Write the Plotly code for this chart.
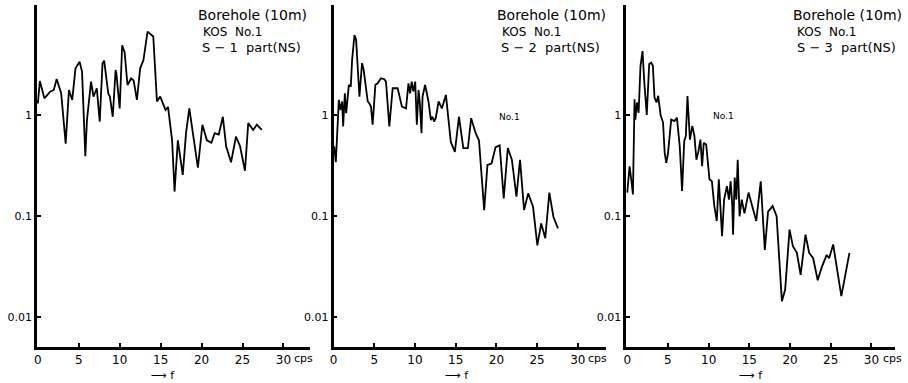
import plotly.graph_objects as go

W, H = 908, 383

# ---------------- data (frequency in cps, spectral ratio) ----------------
f1 = [0.0, 0.25, 0.8, 1.5, 1.95, 2.3, 2.85, 3.4, 3.8, 4.2, 4.6, 5.1, 5.4, 5.8, 6.0,
      6.5, 6.8, 7.2, 7.56, 7.9, 8.1, 8.6, 8.8, 9.15, 9.5, 9.6, 10.0, 10.3, 10.6,
      10.95, 11.4, 11.7, 12.1, 12.5, 12.9, 13.4, 14.1, 14.55, 14.95, 15.6, 15.9,
      16.4, 16.7, 17.1, 17.7, 18.1, 18.5, 19.55, 20.1, 20.65, 21.2, 21.6, 22.1,
      22.6, 23.0, 23.6, 24.2, 24.7, 25.3, 25.7, 26.3, 26.75, 27.35]
a1 = [1.3, 2.17, 1.46, 1.7, 1.77, 2.27, 1.64, 0.52, 1.77, 1.41, 2.9, 3.37, 2.69,
      0.39, 0.89, 2.14, 1.52, 1.84, 0.86, 3.25, 3.45, 1.64, 1.52, 0.96, 2.79, 2.54,
      1.16, 4.9, 4.2, 1.98, 2.3, 2.2, 1.41, 2.9, 3.5, 6.7, 6.0, 1.36, 1.52, 1.12,
      1.2, 0.56, 0.174, 0.56, 0.255, 0.66, 1.16, 0.30, 0.80, 0.56, 0.53, 0.66,
      0.64, 0.96, 0.49, 0.34, 0.61, 0.49, 0.28, 0.83, 0.71, 0.80, 0.71]

f2 = [0.08, 0.28, 0.65, 0.85, 1.06, 1.18, 1.39, 1.55, 1.71, 1.88, 2.12, 2.28, 2.57,
      2.77, 3.18, 3.5, 3.7, 4.2, 4.4, 4.6, 4.8, 5.14, 5.42, 5.83, 6.24, 6.44, 6.85,
      7.26, 7.87, 8.4, 8.9, 9.2, 9.4, 9.6, 9.8, 10.03, 10.23, 10.44, 10.6, 10.8,
      10.93, 11.25, 11.66, 11.95, 12.15, 12.35, 12.55, 12.9, 13.3, 13.8, 14.4,
      14.9, 15.4, 15.94, 16.5, 16.9, 17.45, 17.86, 18.5, 18.9, 19.4, 19.9, 20.4,
      20.9, 21.4, 21.9, 22.46, 22.9, 23.4, 23.9, 24.5, 25.03, 25.5, 26.0, 26.5,
      27.0, 27.56]
a2 = [0.49, 0.34, 1.41, 1.12, 1.36, 0.77, 1.64, 1.04, 1.41, 1.99, 1.91, 3.52, 6.2,
      5.6, 1.52, 3.26, 2.8, 1.36, 1.3, 1.21, 0.8, 1.99, 2.06, 2.31, 2.26, 2.14,
      0.77, 1.84, 1.84, 1.21, 1.16, 2.06, 1.64, 2.14, 1.71, 2.14, 0.8, 1.77, 1.3,
      0.66, 1.52, 1.99, 1.36, 0.89, 0.96, 0.86, 0.93, 1.36, 1.16, 1.58, 0.54,
      0.43, 0.96, 0.47, 0.47, 0.93, 0.66, 0.56, 0.114, 0.32, 0.33, 0.48, 0.50,
      0.149, 0.47, 0.36, 0.155, 0.36, 0.114, 0.167, 0.123, 0.051, 0.084, 0.06,
      0.17, 0.098, 0.075]

f3 = [0.0, 0.29, 0.49, 0.7, 0.9, 1.0, 1.2, 1.4, 1.63, 1.88, 2.1, 2.4, 2.7, 2.94,
      3.15, 3.35, 3.6, 3.8, 4.1, 4.4, 4.6, 4.8, 5.0, 5.4, 5.8, 6.1, 6.45, 6.74,
      7.0, 7.2, 7.4, 7.7, 8.0, 8.25, 8.5, 8.76, 8.99, 9.2, 9.4, 9.7, 10.1, 10.4,
      10.7, 11.0, 11.25, 11.45, 11.65, 11.9, 12.25, 12.5, 12.7, 12.9, 13.0, 13.2,
      13.4, 13.57, 13.8, 14.06, 14.4, 14.9, 15.5, 15.85, 16.4, 16.9, 17.3, 17.86,
      18.35, 19.0, 19.4, 19.94, 20.35, 20.84, 21.3, 21.9, 22.35, 22.84, 23.4,
      23.9, 24.5, 24.8, 25.3, 26.3, 27.3]
a3 = [0.17, 0.31, 0.23, 0.163, 1.43, 0.9, 1.33, 1.05, 3.07, 4.3, 2.1, 1.0, 3.2,
      3.3, 3.07, 1.49, 1.33, 1.55, 1.0, 0.84, 0.42, 0.336, 0.41, 0.9, 0.87, 0.94,
      0.49, 0.176, 0.55, 0.62, 1.54, 0.57, 0.78, 0.62, 0.36, 0.44, 0.57, 0.31,
      0.53, 0.51, 0.23, 0.22, 0.125, 0.089, 0.23, 0.125, 0.063, 0.145, 0.197,
      0.145, 0.22, 0.13, 0.065, 0.24, 0.145, 0.36, 0.099, 0.145, 0.106, 0.17,
      0.11, 0.089, 0.22, 0.046, 0.11, 0.125, 0.099, 0.0142, 0.0186, 0.073, 0.05,
      0.043, 0.026, 0.065, 0.043, 0.038, 0.023, 0.031, 0.041, 0.038, 0.052,
      0.016, 0.043]

x_ticks = [0, 5, 10, 15, 20, 25, 30]
x_ticktext = ["0", "5", "10", "15", "20", "25", "30"]
y_ticks = [0.01, 0.1, 1]
y_ticktext = ["0.01", "0.1", "1"]
titles = ["Borehole (10m)", "KOS  No.1"]
parts = ["S − 1  part(NS)", "S − 2  part(NS)", "S − 3  part(NS)"]

FONT = "DejaVu Sans"

fig = go.Figure()
series = [(f1, a1), (f2, a2), (f3, a3)]
for i, (fx, ay) in enumerate(series):
    sfx = "" if i == 0 else str(i + 1)
    fig.add_trace(go.Scatter(x=fx, y=ay, mode="lines", xaxis="x" + sfx, yaxis="y" + sfx,
                             line=dict(color="black", width=1.8), showlegend=False,
                             hoverinfo="skip"))

def px(x):
    return x / W

def py(y):
    return 1 - y / H

ybot, ytop = 347, 5
xdoms = [(33, 307), (331, 605), (625, 895)]
xranges = [[-0.12, 33.2], [0.0, 33.5], [-0.12, 32.9]]
yrange = [-2.30, 1.09]

layout = dict(
    width=W, height=H, margin=dict(l=0, r=0, t=0, b=0),
    paper_bgcolor="white", plot_bgcolor="white",
    font=dict(family=FONT, color="black", size=12),
    showlegend=False,
)
for i in range(3):
    sfx = "" if i == 0 else str(i + 1)
    layout["xaxis" + sfx] = dict(
        domain=[px(xdoms[i][0]), px(xdoms[i][1])], range=xranges[i],
        anchor="y" + sfx, showgrid=False, zeroline=False,
        showline=True, linecolor="black", linewidth=2.5,
        ticks="inside", ticklen=4, tickwidth=1.5, tickcolor="black",
        tickvals=x_ticks, ticktext=x_ticktext,
        tickfont=dict(family=FONT, size=12, color="black"),
    )
    layout["yaxis" + sfx] = dict(
        domain=[py(ybot), py(ytop)], type="log", range=yrange,
        anchor="x" + sfx, showgrid=False, zeroline=False,
        showline=True, linecolor="black", linewidth=2.5,
        ticks="inside", ticklen=4, tickwidth=1.5, tickcolor="black",
        tickvals=y_ticks, ticktext=y_ticktext,
        tickfont=dict(family=FONT, size=11, color="black"),
    )

ann = []
title_x = [193, 493, 790]
cps_x = [289, 585, 881]
arrow_x = [160, 455, 750]
for i in range(3):
    ann.append(dict(x=px(title_x[i]), y=py(15), xref="paper", yref="paper",
                    xanchor="left", yanchor="middle", showarrow=False,
                    text=titles[0], font=dict(family=FONT, size=14, color="black")))
    ann.append(dict(x=px(title_x[i] + 5), y=py(32), xref="paper", yref="paper",
                    xanchor="left", yanchor="middle", showarrow=False,
                    text=titles[1], font=dict(family=FONT, size=12, color="black")))
    ann.append(dict(x=px(title_x[i] + 4), y=py(48), xref="paper", yref="paper",
                    xanchor="left", yanchor="middle", showarrow=False,
                    text=parts[i], font=dict(family=FONT, size=13, color="black")))
    ann.append(dict(x=px(cps_x[i]), y=py(358), xref="paper", yref="paper",
                    xanchor="left", yanchor="middle", showarrow=False,
                    text="cps", font=dict(family=FONT, size=11, color="black")))
    ann.append(dict(x=px(arrow_x[i]), y=py(375), xref="paper", yref="paper",
                    xanchor="center", yanchor="middle", showarrow=False,
                    text="⟶ f", font=dict(family=FONT, size=11, color="black")))
for (lx, ly) in [(495, 117), (710, 116)]:
    ann.append(dict(x=px(lx), y=py(ly), xref="paper", yref="paper",
                    xanchor="left", yanchor="middle", showarrow=False,
                    text="No.1", font=dict(family=FONT, size=9, color="black")))
layout["annotations"] = ann

fig.update_layout(**layout)
fig.write_html("out.html", config={"displayModeBar": False},
               post_script="document.body.style.margin='0px';")
